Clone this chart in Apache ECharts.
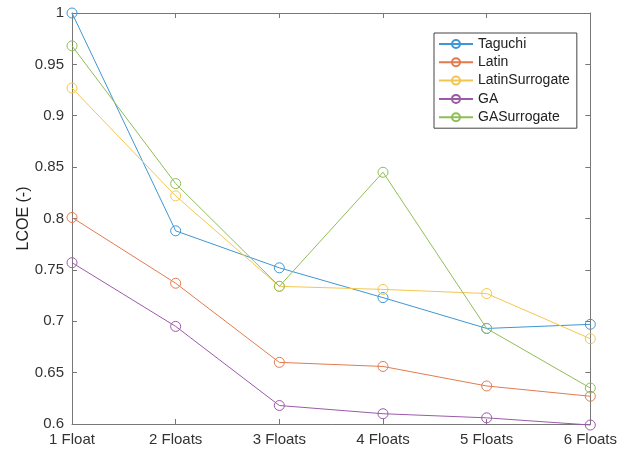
<!DOCTYPE html>
<html><head><meta charset="utf-8">
<script src="https://cdn.jsdelivr.net/npm/echarts@6/dist/echarts.min.js"></script>
<style>html,body{margin:0;padding:0;background:#fff}#c{width:620px;height:451px}</style>
</head><body><div id="c"></div>
<script>
const categories = ['1 Float','2 Floats','3 Floats','4 Floats','5 Floats','6 Floats'];
const taguchi = [1.0, 0.788, 0.752, 0.723, 0.693, 0.697];
const latin = [0.801, 0.737, 0.660, 0.656, 0.637, 0.627];
const latinSurrogate = [0.927, 0.822, 0.734, 0.731, 0.727, 0.683];
const ga = [0.757, 0.695, 0.618, 0.610, 0.606, 0.599];
const gaSurrogate = [0.968, 0.834, 0.734, 0.845, 0.693, 0.635];
const seriesNames = ['Taguchi','Latin','LatinSurrogate','GA','GASurrogate'];
const colors = ['#3f96d3','#e27a50','#f2c650','#9a5aa8','#8fbd56'];
const allData = [taguchi, latin, latinSurrogate, ga, gaSurrogate];

const chart = echarts.init(document.getElementById('c'), null, {renderer:'canvas'});
const axisColor = '#777';
const font = 'Liberation Sans, Arial, sans-serif';
chart.setOption({
  animation:false,
  color: colors,
  grid:{left:72, right:26, top:13, bottom:27, show:false},
  legend:{
    orient:'vertical', left:434, top:33,
    data: seriesNames,
    itemWidth:34, itemHeight:10, itemGap:4.3,
    borderColor:'#444', borderWidth:1, backgroundColor:'#fff',
    padding:[4,7,4,4],
    textStyle:{fontFamily:font, fontSize:14, color:'#222'}
  },
  xAxis:[{
    type:'category', data:categories, boundaryGap:false,
    axisLine:{lineStyle:{color:axisColor, width:1}},
    axisTick:{inside:true, length:5, lineStyle:{color:axisColor}},
    axisLabel:{color:'#333', fontFamily:font, fontSize:15, margin:8, showMaxLabel:true, showMinLabel:true},
    splitLine:{show:false}
  },{
    type:'category', data:categories, boundaryGap:false, position:'top',
    axisLine:{lineStyle:{color:axisColor, width:1}},
    axisTick:{inside:true, length:5, lineStyle:{color:axisColor}},
    axisLabel:{show:false}, splitLine:{show:false}
  }],
  yAxis:[{
    type:'value', min:0.6, max:1, interval:0.05,
    name:'LCOE (-)', nameLocation:'middle', nameGap:40, nameRotate:90, nameMoveOverlap:false,
    nameTextStyle:{color:'#222', fontFamily:font, fontSize:16},
    axisLine:{show:true, lineStyle:{color:axisColor, width:1}},
    axisTick:{show:true, inside:true, length:5, lineStyle:{color:axisColor}},
    axisLabel:{color:'#333', fontFamily:font, fontSize:15, margin:8,
      formatter: v => String(parseFloat(v.toFixed(2)))},
    splitLine:{show:false}
  },{
    type:'value', min:0.6, max:1, interval:0.05, position:'right',
    axisLine:{show:true, lineStyle:{color:axisColor, width:1}},
    axisTick:{show:true, inside:true, length:5, lineStyle:{color:axisColor}},
    axisLabel:{show:false}, splitLine:{show:false}
  }],
  series: seriesNames.map((n,i)=>({
    name:n, type:'line', data:allData[i], clip:false,
    symbol:'circle', symbolSize:10, showAllSymbol:true,
    lineStyle:{width:1, color:colors[i]},
    itemStyle:{color:'rgba(255,255,255,0)', borderColor:colors[i], borderWidth:1},
    z: 2+i
  }))
});
</script></body></html>
